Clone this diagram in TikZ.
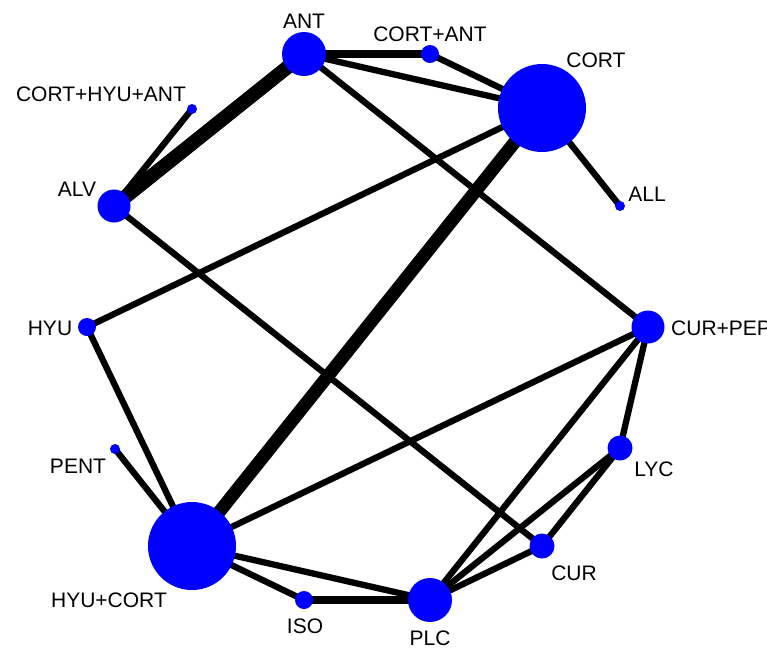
\documentclass[tikz,border=0pt]{standalone}
\usepackage{fontspec}
\setmainfont{Liberation Sans}
\begin{document}
\begin{tikzpicture}[x=1pt,y=-1pt,
  dot/.style={circle,fill={rgb,255:red,0;green,0;blue,255},inner sep=0pt,minimum size=#1},
  edge/.style={line width=6.3pt,black},
  lbl/.style={inner sep=0pt,font=\fontsize{21}{24}\selectfont}]
\useasboundingbox (0,0) rectangle (767,649);
% node positions
\coordinate (ANT) at (304,54);
\coordinate (CORTANT) at (430,54);
\coordinate (CORT) at (542,108);
\coordinate (CHA) at (192,109);
\coordinate (ALL) at (620,206);
\coordinate (ALV) at (114,206);
\coordinate (HYU) at (87,327);
\coordinate (CURPEP) at (648,327);
\coordinate (PENT) at (115,449);
\coordinate (LYC) at (620,448);
\coordinate (HYUCORT) at (192,546);
\coordinate (CUR) at (542,546);
\coordinate (ISO) at (304,600);
\coordinate (PLC) at (430,600);
% edges
\draw[edge,line width=14pt] (ANT) -- (ALV);
\draw[edge,line width=13pt] (CORT) -- (HYUCORT);
\draw[edge,line width=7.5pt] (ANT) -- (CORTANT);
\draw[edge] (ANT) -- (CORT);
\draw[edge] (ANT) -- (CURPEP);
\draw[edge] (CORTANT) -- (CORT);
\draw[edge] (CORT) -- (ALL);
\draw[edge] (CORT) -- (HYU);
\draw[edge] (CHA) -- (ALV);
\draw[edge] (ALV) -- (CUR);
\draw[edge] (HYU) -- (HYUCORT);
\draw[edge] (PENT) -- (HYUCORT);
\draw[edge] (HYUCORT) -- (CURPEP);
\draw[edge] (HYUCORT) -- (ISO);
\draw[edge] (HYUCORT) -- (PLC);
\draw[edge,line width=7.5pt] (ISO) -- (PLC);
\draw[edge] (PLC) -- (CURPEP);
\draw[edge] (PLC) -- (LYC);
\draw[edge] (PLC) -- (CUR);
\draw[edge] (LYC) -- (CURPEP);
\draw[edge] (LYC) -- (CUR);
% nodes
\node[dot=44pt] (nANT) at (ANT) {};
\node[dot=18pt] (nCORTANT) at (CORTANT) {};
\node[dot=88pt] (nCORT) at (CORT) {};
\node[dot=10pt] (nCHA) at (CHA) {};
\node[dot=10pt] (nALL) at (ALL) {};
\node[dot=33pt] (nALV) at (ALV) {};
\node[dot=18pt] (nHYU) at (HYU) {};
\node[dot=33pt] (nCURPEP) at (CURPEP) {};
\node[dot=10pt] (nPENT) at (PENT) {};
\node[dot=25pt] (nLYC) at (LYC) {};
\node[dot=88pt] (nHYUCORT) at (HYUCORT) {};
\node[dot=25pt] (nCUR) at (CUR) {};
\node[dot=18pt] (nISO) at (ISO) {};
\node[dot=44pt] (nPLC) at (PLC) {};
% labels
\node[lbl] (tANT) at (304,21) {ANT};
\node[lbl] (tCORTANT) at (430,34) {CORT+ANT};
\node[lbl] (tCORT) at (596,60) {CORT};
\node[lbl] (tCHA) at (101,94) {CORT+HYU+ANT};
\node[lbl] (tALV) at (77,189) {ALV};
\node[lbl] (tALL) at (647,194) {ALL};
\node[lbl] (tHYU) at (50,328) {HYU};
\node[lbl,anchor=west] (tCURPEP) at (671,328) {CUR+PEP};
\node[lbl] (tPENT) at (78,466) {PENT};
\node[lbl] (tLYC) at (654,469) {LYC};
\node[lbl] (tHYUCORT) at (109,600) {HYU+CORT};
\node[lbl] (tCUR) at (574,573) {CUR};
\node[lbl] (tISO) at (305,626) {ISO};
\node[lbl] (tPLC) at (430,638) {PLC};
\end{tikzpicture}
\end{document}
